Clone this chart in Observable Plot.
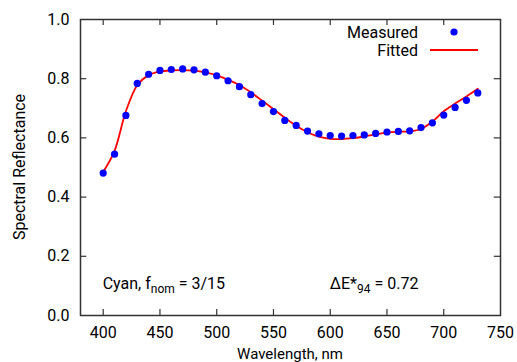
<!DOCTYPE html>
<html><head><meta charset="utf-8">
<script src="https://cdn.jsdelivr.net/npm/d3@7"></script>
<script src="https://cdn.jsdelivr.net/npm/@observablehq/plot@0.6"></script>
<style>body{margin:0;background:#fff}</style>
</head><body><div id="chart"></div>
<script>
const wavelengths = [400,410,420,430,440,450,460,470,480,490,500,510,520,530,540,550,560,570,580,590,600,610,620,630,640,650,660,670,680,690,700,710,720,730];
const measured = [0.481,0.545,0.676,0.784,0.815,0.828,0.831,0.833,0.830,0.822,0.810,0.793,0.773,0.746,0.716,0.689,0.659,0.642,0.623,0.614,0.608,0.606,0.608,0.610,0.615,0.620,0.622,0.624,0.635,0.651,0.677,0.703,0.727,0.752];
const fitted = [0.485,0.556,0.690,0.778,0.812,0.824,0.828,0.829,0.827,0.821,0.811,0.796,0.779,0.754,0.726,0.697,0.668,0.641,0.619,0.604,0.597,0.596,0.599,0.605,0.612,0.618,0.621,0.622,0.630,0.655,0.690,0.716,0.740,0.766];
const xTicks = [400,450,500,550,600,650,700,750];
const yTicks = [0.0,0.2,0.4,0.6,0.8,1.0];
const xMinor = [400,450,500,550,600,650,700];
const yMinor = [0.2,0.4,0.6,0.8];

const meas = wavelengths.map((w,i)=>({w, v: measured[i]}));
const fit = wavelengths.map((w,i)=>({w, v: fitted[i]}));

const plot = Plot.plot({
  width: 517, height: 362,
  marginLeft: 80, marginRight: 17, marginTop: 19, marginBottom: 47,
  style: {fontFamily: "Roboto, sans-serif", fontSize: "16px", color: "#000", background: "#fff"},
  x: {domain: [380, 750]},
  y: {domain: [0, 1]},
  marks: [
    Plot.axisX({ticks: xTicks, tickSize: 0, tickPadding: 11, tickFormat: d => String(d), label: null}),
    Plot.axisY({ticks: yTicks, tickSize: 0, tickPadding: 11, tickFormat: d => d.toFixed(1), label: null}),
    Plot.ruleX(xMinor, {x: d => d, y1: 0, y2: 0.02, stroke: "#333", strokeWidth: 1.2}),
    Plot.ruleX(xMinor, {x: d => d, y1: 0.98, y2: 1, stroke: "#333", strokeWidth: 1.2}),
    Plot.ruleY(yMinor, {y: d => d, x1: 380, x2: 385.5, stroke: "#333", strokeWidth: 1.2}),
    Plot.ruleY(yMinor, {y: d => d, x1: 744.5, x2: 750, stroke: "#333", strokeWidth: 1.2}),
    Plot.line(fit, {x: "w", y: "v", stroke: "#ff0000", strokeWidth: 1.8, curve: "catmull-rom"}),
    Plot.dot(meas, {x: "w", y: "v", r: 3.6, fill: "#0000ff", stroke: "none"}),
    Plot.frame({stroke: "#333", strokeWidth: 1.5})
  ]
});

const svg = d3.select(plot);
const xs = plot.scale("x"), ys = plot.scale("y");
const font = "Roboto, sans-serif";

// axis titles
svg.append("text").attr("x", (80 + 500) / 2).attr("y", 359).attr("text-anchor", "middle")
  .attr("font-family", font).attr("font-size", 15).text("Wavelength, nm");
svg.append("text").attr("transform", "translate(25,167) rotate(-90)").attr("text-anchor", "middle")
  .attr("font-family", font).attr("font-size", 16).text("Spectral Reflectance");

// annotations
const a1 = svg.append("text").attr("x", xs.apply(400)).attr("y", ys.apply(0.1) + 4)
  .attr("text-anchor", "start").attr("font-family", font).attr("font-size", 16);
a1.append("tspan").text("Cyan, f");
a1.append("tspan").attr("font-size", 12).attr("dy", 4).text("nom");
a1.append("tspan").attr("dy", -4).text(" = 3/15");

const a2 = svg.append("text").attr("x", xs.apply(600)).attr("y", ys.apply(0.1) + 4)
  .attr("text-anchor", "start").attr("font-family", font).attr("font-size", 16);
a2.append("tspan").text("\u0394E*");
a2.append("tspan").attr("font-size", 12).attr("dy", 4).text("94");
a2.append("tspan").attr("dy", -4).text(" = 0.72");

// legend
const lg = svg.append("g").attr("font-family", font).attr("font-size", 16);
lg.append("text").attr("x", 418).attr("y", 32).attr("dy", "0.35em").attr("text-anchor", "end").text("Measured");
lg.append("circle").attr("cx", 454).attr("cy", 32).attr("r", 3.6).attr("fill", "#0000ff");
lg.append("text").attr("x", 418).attr("y", 50).attr("dy", "0.35em").attr("text-anchor", "end").text("Fitted");
lg.append("line").attr("x1", 430).attr("x2", 478).attr("y1", 50).attr("y2", 50).attr("stroke", "#ff0000").attr("stroke-width", 1.8);

document.getElementById("chart").appendChild(plot);
</script>
</body></html>
